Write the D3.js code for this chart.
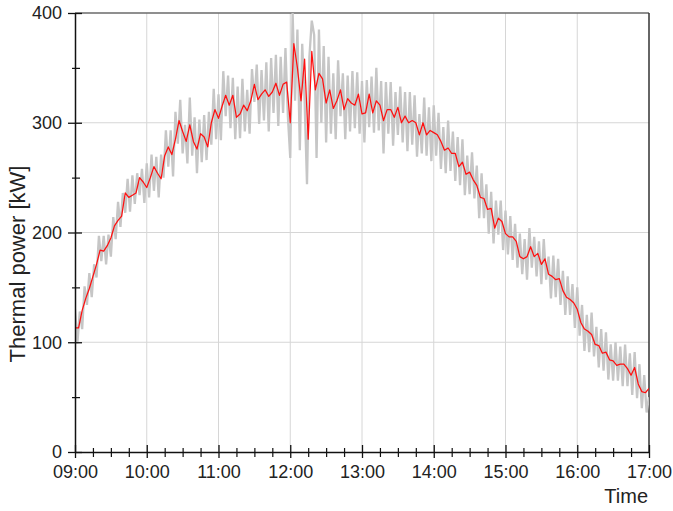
<!DOCTYPE html>
<html><head><meta charset="utf-8">
<script src="https://cdn.jsdelivr.net/npm/d3@7"></script>
<style>
html,body{margin:0;padding:0;background:#fff;}
svg{display:block;font-family:"Liberation Sans",Arial,sans-serif;}
</style></head><body>
<svg id="chart" width="673" height="511"></svg>
<script>
// ---------- data ----------
const xTickMinutes = [0, 60, 120, 180, 240, 300, 360, 420, 480];
const xTickLabels = ["09:00","10:00","11:00","12:00","13:00","14:00","15:00","16:00","17:00"];
const xMinorMinutes = [15,30,45,75,90,105,135,150,165,195,210,225,255,270,285,315,330,345,375,390,405,435,450,465];
const yTickValues = [0, 100, 200, 300, 400];
const yMinorValues = [50, 150, 250, 350];
const yLabel = "Thermal power [kW]";
const xLabel = "Time";

const redStepMin = 3;   // smoothed series, one value every 3 min from 09:00
const redValues = [
  113,113,129,140,149,160,171,184,183,188,
  195,206,211,215,236,232,234,236,250,246,
  241,250,260,254,249,270,278,271,285,302,
  292,283,298,283,276,290,287,278,300,312,
  304,315,325,316,325,305,308,316,311,320,
  335,321,326,330,324,328,336,325,335,337,
  300,372,350,320,358,285,365,330,345,340,
  318,330,313,320,330,312,322,318,316,326,
  308,309,326,309,320,316,302,312,312,305,
  314,300,306,300,302,300,289,300,289,293,
  291,289,283,275,277,272,272,260,264,253,
  255,248,243,232,231,221,222,204,213,210,
  199,196,196,192,178,176,178,187,178,181,
  171,176,162,160,157,158,147,141,139,136,
  130,118,112,110,107,98,97,90,91,84,
  83,79,80,80,76,70,77,62,55,54,
  58
];

const grayStepMin = 2;  // raw measurement, one value every 2 min from 09:00
const grayValues = [
  130,99,128,112,151,134,163,141,171,159,
  197,174,197,171,198,178,214,194,228,205,
  236,218,249,219,252,226,254,234,258,227,
  263,232,271,238,269,232,271,250,293,260,
  293,251,310,281,321,272,298,263,323,270,
  305,254,303,264,307,266,310,280,331,285,
  326,284,347,306,343,295,341,285,333,286,
  340,292,330,290,349,319,353,299,348,302,
  355,292,359,309,362,297,360,309,368,306,
  268,400,320,385,275,372,320,244,360,393,
  380,268,385,300,370,282,360,290,345,285,
  357,306,345,285,343,292,347,295,346,290,
  338,282,339,296,342,291,350,293,338,272,
  337,290,337,279,328,289,333,282,328,274,
  328,280,325,269,308,272,323,270,314,265,
  316,270,309,258,296,254,302,256,292,247,
  287,243,285,234,270,235,273,231,261,213,
  254,213,244,199,237,190,229,198,229,184,
  220,180,215,175,208,168,199,162,194,157,
  204,168,196,160,192,153,194,157,178,140,
  179,141,176,134,165,125,160,125,153,113,
  150,106,134,92,125,91,127,87,114,77,
  112,74,109,66,98,65,100,65,96,60,
  98,60,90,52,91,49,80,40,70,36,
  50
];

// ---------- layout ----------
const W = 673, H = 511;
const M = {left: 75, right: 24, top: 13, bottom: 59};
const iw = W - M.left - M.right, ih = H - M.top - M.bottom;

const svg = d3.select("#chart");
const g = svg.append("g").attr("transform", `translate(${M.left},${M.top})`);

const x = d3.scaleLinear().domain([0, 480]).range([0, iw]);
const y = d3.scaleLinear().domain([0, 400]).range([ih, 0]);

// grid
g.append("g").selectAll("line").data(xTickMinutes.slice(1, -1)).join("line")
  .attr("x1", d => x(d)).attr("x2", d => x(d)).attr("y1", 0).attr("y2", ih)
  .attr("stroke", "#d6d6d6").attr("stroke-width", 1);
g.append("g").selectAll("line").data(yTickValues.slice(1, -1)).join("line")
  .attr("y1", d => y(d)).attr("y2", d => y(d)).attr("x1", 0).attr("x2", iw)
  .attr("stroke", "#d6d6d6").attr("stroke-width", 1);

// frame top/right
g.append("line").attr("x1", 0).attr("x2", iw).attr("y1", 0).attr("y2", 0)
  .attr("stroke", "#6a6a6a").attr("stroke-width", 1.5);
g.append("line").attr("x1", iw).attr("x2", iw).attr("y1", 0).attr("y2", ih)
  .attr("stroke", "#333").attr("stroke-width", 1.5);

// clip
svg.append("defs").append("clipPath").attr("id", "clip")
  .append("rect").attr("x", 0).attr("y", 0).attr("width", iw).attr("height", ih);

const plot = g.append("g").attr("clip-path", "url(#clip)");

const grayLine = d3.line().x((d, i) => x(i * grayStepMin)).y(d => y(d));
const redLine = d3.line().x((d, i) => x(i * redStepMin)).y(d => y(d));

plot.append("path").datum(grayValues).attr("d", grayLine)
  .attr("fill", "none").attr("stroke", "#c6c6c6").attr("stroke-width", 2.3)
  .attr("stroke-linejoin", "bevel");
plot.append("path").datum(redValues).attr("d", redLine)
  .attr("fill", "none").attr("stroke", "#ff1010").attr("stroke-width", 1.25)
  .attr("stroke-linejoin", "round");

// axes
const fontSize = 18;
const xAxis = d3.axisBottom(x).tickValues(xTickMinutes)
  .tickFormat((d, i) => xTickLabels[i]).tickSize(6).tickSizeOuter(0).tickPadding(7);
const gx = g.append("g").attr("transform", `translate(0,${ih})`).call(xAxis);
gx.select(".domain").attr("stroke", "#111").attr("stroke-width", 1.5);
gx.selectAll(".tick line").attr("y1", -7).attr("stroke", "#111").attr("stroke-width", 1.3);
gx.selectAll(".tick text").attr("font-size", fontSize).attr("fill", "#222")
  .attr("font-family", "Liberation Sans, Arial, sans-serif");

const xMinor = d3.axisBottom(x).tickValues(xMinorMinutes).tickFormat("").tickSize(5).tickSizeOuter(0);
const gxm = g.append("g").attr("transform", `translate(0,${ih})`).call(xMinor);
gxm.select(".domain").remove();
gxm.selectAll(".tick line").attr("y1", -4).attr("stroke", "#111").attr("stroke-width", 1.2);

const yAxis = d3.axisLeft(y).tickValues(yTickValues).tickSize(7).tickSizeOuter(0).tickPadding(6);
const gy = g.append("g").call(yAxis);
gy.select(".domain").attr("stroke", "#111").attr("stroke-width", 1.5);
gy.selectAll(".tick line").attr("x1", 7).attr("stroke", "#111").attr("stroke-width", 1.3);
gy.selectAll(".tick text").attr("font-size", fontSize).attr("fill", "#222")
  .attr("font-family", "Liberation Sans, Arial, sans-serif");

const yMinor = d3.axisLeft(y).tickValues(yMinorValues).tickFormat("").tickSize(3).tickSizeOuter(0);
const gym = g.append("g").call(yMinor);
gym.select(".domain").remove();
gym.selectAll(".tick line").attr("x1", 5).attr("stroke", "#111").attr("stroke-width", 1.2);

// labels
svg.append("text").attr("transform", `translate(25,264) rotate(-90)`)
  .attr("text-anchor", "middle").attr("font-size", 22).attr("fill", "#222").text(yLabel);
svg.append("text").attr("x", 648).attr("y", 503)
  .attr("text-anchor", "end").attr("font-size", 20).attr("fill", "#222").text(xLabel);
</script>
</body></html>
